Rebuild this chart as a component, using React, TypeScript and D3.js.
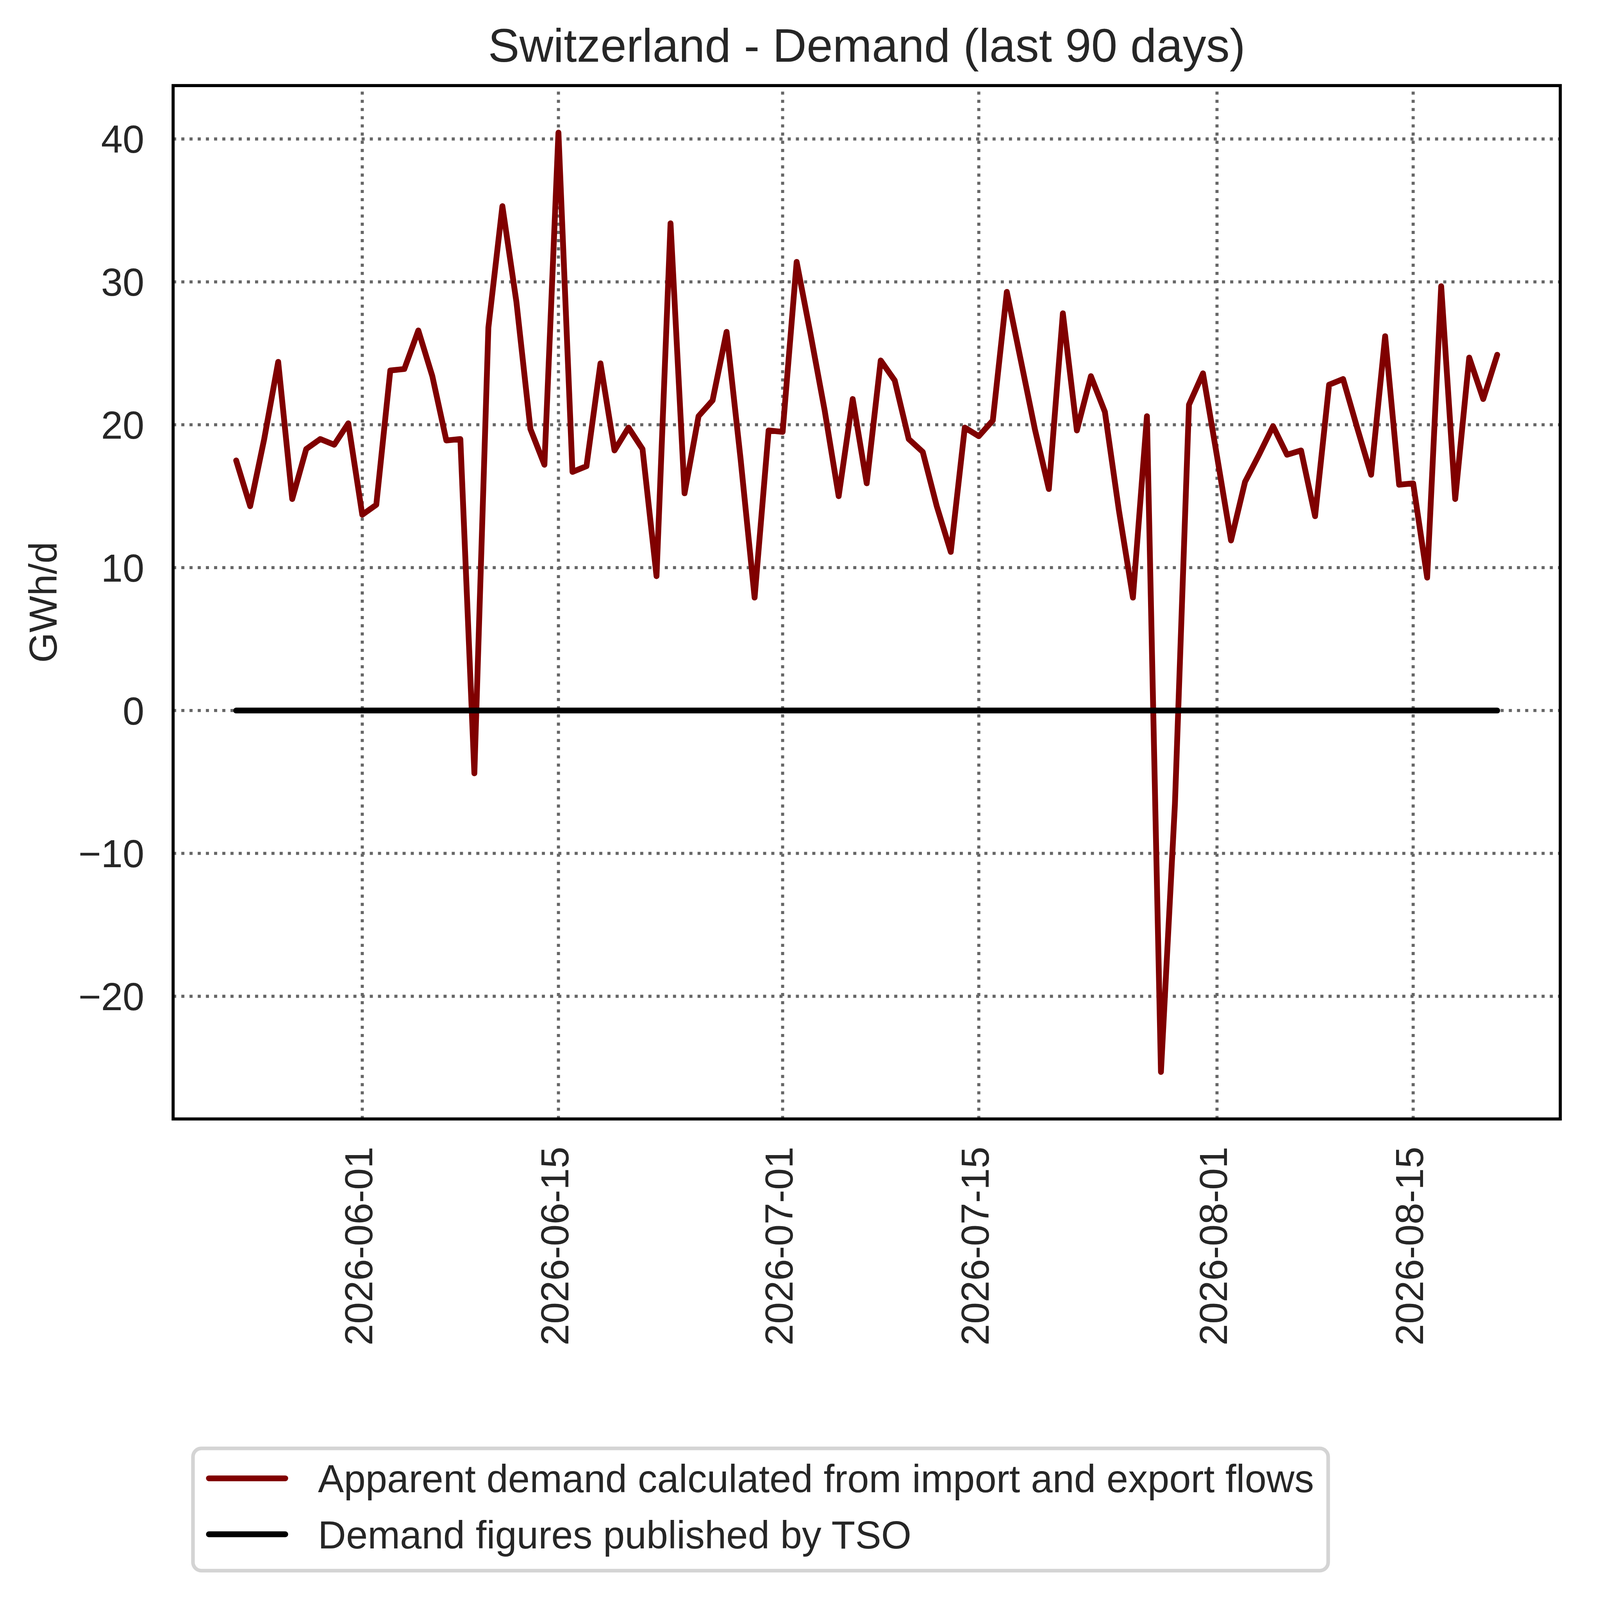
import { useEffect, useRef } from "react"
import * as d3 from "d3"

// daily series, 2026-05-23 .. 2026-08-21
const startDate = "2026-05-23"
const endDate = "2026-08-22" // exclusive

const apparentDemand = [
  17.5, 14.3, 19.0, 24.4, 14.8, 18.3, 19.0, 18.6, 20.1, 13.7,
  14.4, 23.8, 23.9, 26.6, 23.4, 18.9, 19.0, -4.4, 26.8, 35.3,
  28.6, 19.7, 17.2, 40.45, 16.7, 17.1, 24.3, 18.2, 19.8, 18.3,
  9.4, 34.1, 15.2, 20.6, 21.7, 26.5, 17.6, 7.9, 19.6, 19.5,
  31.4, 26.3, 21.0, 15.0, 21.8, 15.9, 24.5, 23.1, 19.0, 18.1,
  14.3, 11.1, 19.8, 19.2, 20.3, 29.3, 24.5, 19.7, 15.5, 27.8,
  19.6, 23.4, 20.9, 14.0, 7.9, 20.6, -25.3, -6.5, 21.4, 23.6,
  17.8, 11.9, 16.0, 17.9, 19.9, 17.9, 18.2, 13.6, 22.8, 23.2,
  19.8, 16.5, 26.2, 15.8, 15.9, 9.3, 29.7, 14.8, 24.7, 21.8,
  24.9,
]

const tsoDemand = [
  0, 0, 0, 0, 0, 0, 0, 0, 0, 0, 0, 0, 0, 0, 0, 0, 0, 0, 0, 0,
  0, 0, 0, 0, 0, 0, 0, 0, 0, 0, 0, 0, 0, 0, 0, 0, 0, 0, 0, 0,
  0, 0, 0, 0, 0, 0, 0, 0, 0, 0, 0, 0, 0, 0, 0, 0, 0, 0, 0, 0,
  0, 0, 0, 0, 0, 0, 0, 0, 0, 0, 0, 0, 0, 0, 0, 0, 0, 0, 0, 0,
  0, 0, 0, 0, 0, 0, 0, 0, 0, 0, 0,
]

const xTickLabels = ["2026-06-01", "2026-06-15", "2026-07-01", "2026-07-15", "2026-08-01", "2026-08-15"]
const yTicks = [-20, -10, 0, 10, 20, 30, 40]

const seriesNames = ["Apparent demand calculated from import and export flows", "Demand figures published by TSO"]
const seriesColors = ["#800000", "#000000"]

const title = "Switzerland - Demand (last 90 days)"
const yLabel = "GWh/d"

const W = 5679
const H = 5721
const FONT = "'Liberation Sans', Arial, Helvetica, sans-serif"
const TEXT = "#262626"

export default function App() {
  const svgRef = useRef<SVGSVGElement | null>(null)

  useEffect(() => {
    if (!svgRef.current) return
    const svg = d3.select(svgRef.current)
    svg.selectAll("*").remove()

    const m = { left: 619, right: 5579, top: 306, bottom: 4001 }

    const parse = d3.utcParse("%Y-%m-%d")
    const dates = d3.utcDay.range(parse(startDate)!, parse(endDate)!)

    // matplotlib style 5% margins
    const t0 = dates[0].getTime()
    const t1 = dates[dates.length - 1].getTime()
    const tPad = (t1 - t0) * 0.05
    const x = d3.scaleUtc().domain([new Date(t0 - tPad), new Date(t1 + tPad)]).range([m.left, m.right])

    const all = apparentDemand.concat(tsoDemand)
    const [yMin, yMax] = d3.extent(all) as [number, number]
    const yPad = (yMax - yMin) * 0.05
    const y = d3.scaleLinear().domain([yMin - yPad, yMax + yPad]).range([m.bottom, m.top])

    svg.append("rect").attr("width", W).attr("height", H).attr("fill", "white")

    // grid
    const grid = svg.append("g").attr("stroke", "#666666").attr("stroke-width", 11).attr("stroke-dasharray", "11 18.3")
    grid
      .selectAll(".hg")
      .data(yTicks)
      .enter()
      .append("line")
      .attr("x1", m.left)
      .attr("x2", m.right)
      .attr("y1", (d) => y(d))
      .attr("y2", (d) => y(d))
    grid
      .selectAll(".vg")
      .data(xTickLabels)
      .enter()
      .append("line")
      .attr("x1", (d) => x(parse(d)!))
      .attr("x2", (d) => x(parse(d)!))
      .attr("y1", m.bottom)
      .attr("y2", m.top)

    // lines
    const line = d3
      .line<number>()
      .x((d, i) => x(dates[i]))
      .y((d) => y(d))

    ;[apparentDemand, tsoDemand].forEach((s, i) => {
      svg
        .append("path")
        .attr("d", line(s))
        .attr("fill", "none")
        .attr("stroke", seriesColors[i])
        .attr("stroke-width", 20.7)
        .attr("stroke-linejoin", "round")
        .attr("stroke-linecap", "round")
    })

    // frame
    svg
      .append("rect")
      .attr("x", m.left)
      .attr("y", m.top)
      .attr("width", m.right - m.left)
      .attr("height", m.bottom - m.top)
      .attr("fill", "none")
      .attr("stroke", "#000")
      .attr("stroke-width", 11)

    // y tick labels
    svg
      .selectAll(".ytl")
      .data(yTicks)
      .enter()
      .append("text")
      .attr("x", 516)
      .attr("y", (d) => y(d))
      .attr("dy", "0.358em")
      .attr("text-anchor", "end")
      .attr("font-family", FONT)
      .attr("font-size", 139)
      .attr("fill", TEXT)
      .text((d) => (d < 0 ? "\u2212" + Math.abs(d) : String(d)))

    // x tick labels, rotated
    svg
      .selectAll(".xtl")
      .data(xTickLabels)
      .enter()
      .append("text")
      .attr("transform", (d) => `translate(${x(parse(d)!) + 36},4100) rotate(-90)`)
      .attr("text-anchor", "end")
      .attr("font-family", FONT)
      .attr("font-size", 139)
      .attr("fill", TEXT)
      .text((d) => d)

    // y label
    svg
      .append("text")
      .attr("transform", `translate(202,${(m.top + m.bottom) / 2}) rotate(-90)`)
      .attr("text-anchor", "middle")
      .attr("font-family", FONT)
      .attr("font-size", 139)
      .attr("fill", TEXT)
      .text(yLabel)

    // title
    svg
      .append("text")
      .attr("x", (m.left + m.right) / 2)
      .attr("y", 221)
      .attr("text-anchor", "middle")
      .attr("font-family", FONT)
      .attr("font-size", 168)
      .attr("fill", TEXT)
      .text(title)

    // legend
    const lg = svg.append("g")
    lg.append("rect")
      .attr("x", 690)
      .attr("y", 5179)
      .attr("width", 4059)
      .attr("height", 437)
      .attr("rx", 30)
      .attr("fill", "white")
      .attr("stroke", "#d4d4d4")
      .attr("stroke-width", 13)

    const items = lg
      .selectAll(".li")
      .data(seriesNames)
      .enter()
      .append("g")
      .attr("transform", (d, i) => `translate(0,${5336 + i * 200})`)

    items
      .append("line")
      .attr("x1", 747)
      .attr("x2", 1020)
      .attr("y1", -50)
      .attr("y2", -50)
      .attr("stroke", (d, i) => seriesColors[i])
      .attr("stroke-width", 20.7)
      .attr("stroke-linecap", "round")

    items
      .append("text")
      .attr("x", 1137)
      .attr("y", 0)
      .attr("font-family", FONT)
      .attr("font-size", 139)
      .attr("fill", TEXT)
      .text((d) => d)
  }, [])

  return (
    <svg
      ref={svgRef}
      viewBox={`0 0 ${W} ${H}`}
      preserveAspectRatio="xMinYMin meet"
      style={{ position: "absolute", left: 0, top: 0, width: "100vw", height: "100vh", display: "block" }}
    ></svg>
  )
}
